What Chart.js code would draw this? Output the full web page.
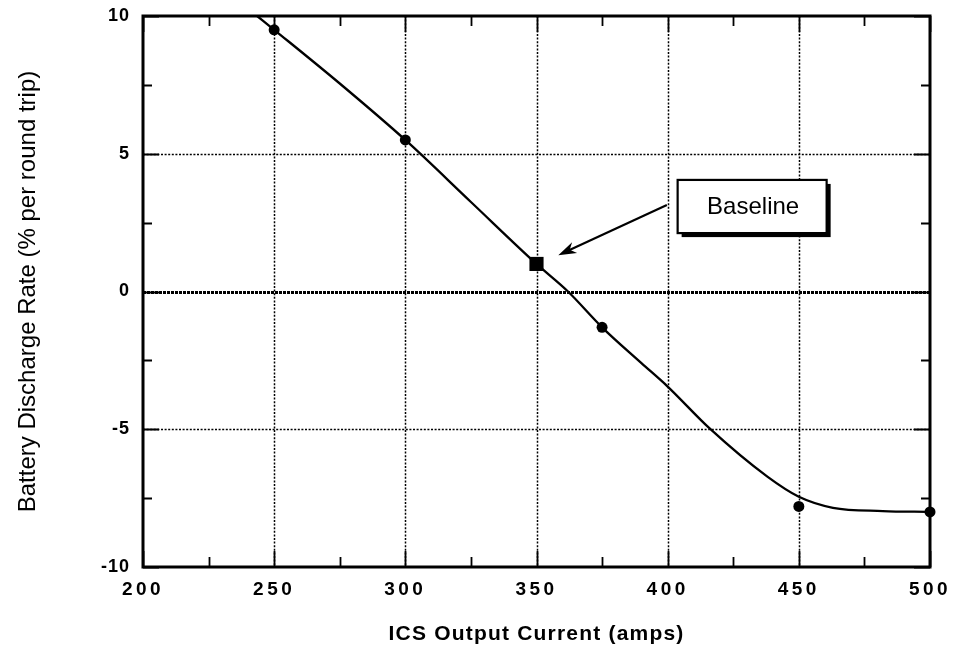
<!DOCTYPE html>
<html><head><meta charset="utf-8">
<script src="https://cdn.jsdelivr.net/npm/chart.js@4.4.1/dist/chart.umd.min.js"></script>
<style>html,body{margin:0;padding:0;background:#fff;}#wrap{width:956px;height:647px;}</style>
</head><body><div id="wrap"><canvas id="c" width="956" height="647"></canvas></div>
<script>
// ---- data ----
const xTicks = [200, 250, 300, 350, 400, 450, 500];
const yTicks = [-10, -5, 0, 5, 10];
const xMinorTicks = [225, 275, 325, 375, 425, 475];
const yMinorTicks = [-7.5, -2.5, 2.5, 7.5];
const measuredX = [250, 300, 375, 450, 500];
const measuredY = [9.5, 5.5, -1.3, -7.8, -8.0];
const baselineX = [350];
const baselineY = [1.0];
const fitX = [243.5, 250, 275, 300, 325, 350, 362, 375, 390, 400, 416, 438, 450, 463, 482, 500];
const fitY = [10, 9.5, 7.55, 5.5, 3.25, 1.0, 0, -1.3, -2.6, -3.45, -4.97, -6.72, -7.45, -7.85, -7.97, -8.0];
const xTitle = 'ICS Output Current (amps)';
const yTitle = 'Battery Discharge Rate (% per round trip)';
const calloutText = 'Baseline';

const FONT = '"Liberation Sans", Arial, Helvetica, sans-serif';

function spaced(scale, method, spacing) {
  const orig = scale[method].bind(scale);
  scale[method] = function (...args) {
    const ctx = this.ctx;
    ctx.save();
    try { ctx.letterSpacing = spacing; } catch (e) {}
    orig(...args);
    ctx.restore();
  };
}

const framePlugin = {
  id: 'frame',
  afterLayout(chart) {
    const x = chart.scales.x, y = chart.scales.y;
    if (!x._patched) { spaced(x, 'drawLabels', '3.5px'); spaced(x, 'drawTitle', '1.2px'); x._patched = true; }
    if (!y._patched) { spaced(y, 'drawLabels', '1px'); y._patched = true; }
  },
  beforeDatasetsDraw(chart) {
    const {ctx, chartArea: a, scales: {x, y}} = chart;
    ctx.save();
    ctx.strokeStyle = '#000';
    // dotted grid
    ctx.lineWidth = 1.5;
    ctx.setLineDash([2, 1.6]);
    xTicks.slice(1, -1).forEach(v => {
      const px = Math.round(x.getPixelForValue(v)) + 0.5;
      ctx.beginPath(); ctx.moveTo(px, a.top); ctx.lineTo(px, a.bottom); ctx.stroke();
    });
    yTicks.slice(1, -1).forEach(v => {
      const py = Math.round(y.getPixelForValue(v)) + 0.5;
      ctx.lineWidth = v === 0 ? 2.8 : 1.5;
      ctx.setLineDash(v === 0 ? [3, 1] : [2, 1.6]);
      ctx.beginPath(); ctx.moveTo(a.left, py); ctx.lineTo(a.right, py); ctx.stroke();
    });
    ctx.setLineDash([]);
    // inward tick marks
    ctx.lineWidth = 1.8;
    const tick = (px, len, horiz) => {
      ctx.beginPath();
      if (horiz) {
        ctx.moveTo(px, a.bottom); ctx.lineTo(px, a.bottom - len);
        ctx.moveTo(px, a.top); ctx.lineTo(px, a.top + len);
      } else {
        ctx.moveTo(a.left, px); ctx.lineTo(a.left + len, px);
        ctx.moveTo(a.right, px); ctx.lineTo(a.right - len, px);
      }
      ctx.stroke();
    };
    xMinorTicks.forEach(v => tick(Math.round(x.getPixelForValue(v)) + 0.5, 10, true));
    xTicks.forEach(v => tick(Math.round(x.getPixelForValue(v)) + 0.5, 16, true));
    yMinorTicks.forEach(v => tick(Math.round(y.getPixelForValue(v)) + 0.5, 9, false));
    yTicks.forEach(v => tick(Math.round(y.getPixelForValue(v)) + 0.5, 16, false));
    // frame
    ctx.lineWidth = 3;
    ctx.strokeRect(a.left, a.top, a.right - a.left, a.bottom - a.top);
    ctx.restore();
  },
  afterDatasetsDraw(chart) {
    const {ctx, scales: {x, y}} = chart;
    ctx.save();
    // arrow from callout to baseline point
    const sx = x.getPixelForValue(399.7), sy = y.getPixelForValue(3.14);
    const ex = x.getPixelForValue(358.3), ey = y.getPixelForValue(1.32);
    const ang = Math.atan2(ey - sy, ex - sx);
    ctx.strokeStyle = '#000'; ctx.fillStyle = '#000';
    ctx.lineWidth = 2.2;
    ctx.beginPath(); ctx.moveTo(sx, sy);
    ctx.lineTo(ex - 10 * Math.cos(ang), ey - 10 * Math.sin(ang)); ctx.stroke();
    const hl = 18, hw = 6;
    ctx.beginPath();
    ctx.moveTo(ex, ey);
    ctx.lineTo(ex - hl * Math.cos(ang) + hw * Math.sin(ang), ey - hl * Math.sin(ang) - hw * Math.cos(ang));
    ctx.lineTo(ex - 0.7 * hl * Math.cos(ang), ey - 0.7 * hl * Math.sin(ang));
    ctx.lineTo(ex - hl * Math.cos(ang) - hw * Math.sin(ang), ey - hl * Math.sin(ang) + hw * Math.cos(ang));
    ctx.closePath(); ctx.fill();
    // callout box with drop shadow
    const bl = x.getPixelForValue(403.8), br = x.getPixelForValue(460.6);
    const bt = y.getPixelForValue(4.05), bb = y.getPixelForValue(2.12);
    ctx.fillStyle = '#000';
    ctx.fillRect(bl + 4, bt + 4, br - bl, bb - bt);
    ctx.fillStyle = '#fff';
    ctx.fillRect(bl, bt, br - bl, bb - bt);
    ctx.lineWidth = 2.2;
    ctx.strokeRect(bl, bt, br - bl, bb - bt);
    ctx.fillStyle = '#000';
    ctx.font = '24px ' + FONT;
    ctx.textAlign = 'center'; ctx.textBaseline = 'middle';
    ctx.fillText(calloutText, (bl + br) / 2 + 1, (bt + bb) / 2 + 1);
    ctx.restore();
  }
};

const toPts = (xs, ys) => xs.map((v, i) => ({x: v, y: ys[i]}));

new Chart(document.getElementById('c'), {
  type: 'scatter',
  data: {
    datasets: [
      {
        type: 'line', label: 'fit', data: toPts(fitX, fitY),
        borderColor: '#000', borderWidth: 2.3, pointRadius: 0,
        cubicInterpolationMode: 'monotone', fill: false, order: 3
      },
      {
        label: 'measured', data: toPts(measuredX, measuredY),
        backgroundColor: '#000', borderColor: '#000', pointRadius: 5.5, borderWidth: 0, order: 2,
        clip: false
      },
      {
        label: 'baseline', data: toPts(baselineX, baselineY),
        backgroundColor: '#000', borderColor: '#000', pointStyle: 'rect', pointRadius: 10, borderWidth: 0, order: 1
      }
    ]
  },
  options: {
    responsive: false,
    animation: false,
    devicePixelRatio: 1,
    layout: {padding: {top: 16, right: 26, left: 0, bottom: 0}},
    plugins: {legend: {display: false}, tooltip: {enabled: false}},
    scales: {
      x: {
        type: 'linear', min: 200, max: 500,
        afterBuildTicks: s => { s.ticks = xTicks.map(v => ({value: v})); },
        afterFit: s => { s.height = 80; s.paddingLeft = 0; s.paddingRight = 0; },
        grid: {display: false, drawTicks: false},
        border: {display: false},
        ticks: {color: '#000', font: {family: FONT, size: 19, weight: 'bold'}, padding: 11, maxRotation: 0, autoSkip: false},
        title: {display: true, text: xTitle, color: '#000', font: {family: FONT, size: 21, weight: 'bold'}, padding: {top: 2, bottom: 0}}
      },
      y: {
        type: 'linear', min: -10, max: 10,
        afterBuildTicks: s => { s.ticks = yTicks.map(v => ({value: v})); },
        afterFit: s => { s.width = 143; s.paddingTop = 0; s.paddingBottom = 0; },
        grid: {display: false, drawTicks: false},
        border: {display: false},
        ticks: {color: '#000', font: {family: FONT, size: 18, weight: 'bold'}, padding: 13, autoSkip: false},
        title: {display: true, text: yTitle, color: '#000', font: {family: FONT, size: 24, weight: 'normal'}, padding: {top: 14, bottom: 0}}
      }
    }
  },
  plugins: [framePlugin]
});
</script>
</body></html>
